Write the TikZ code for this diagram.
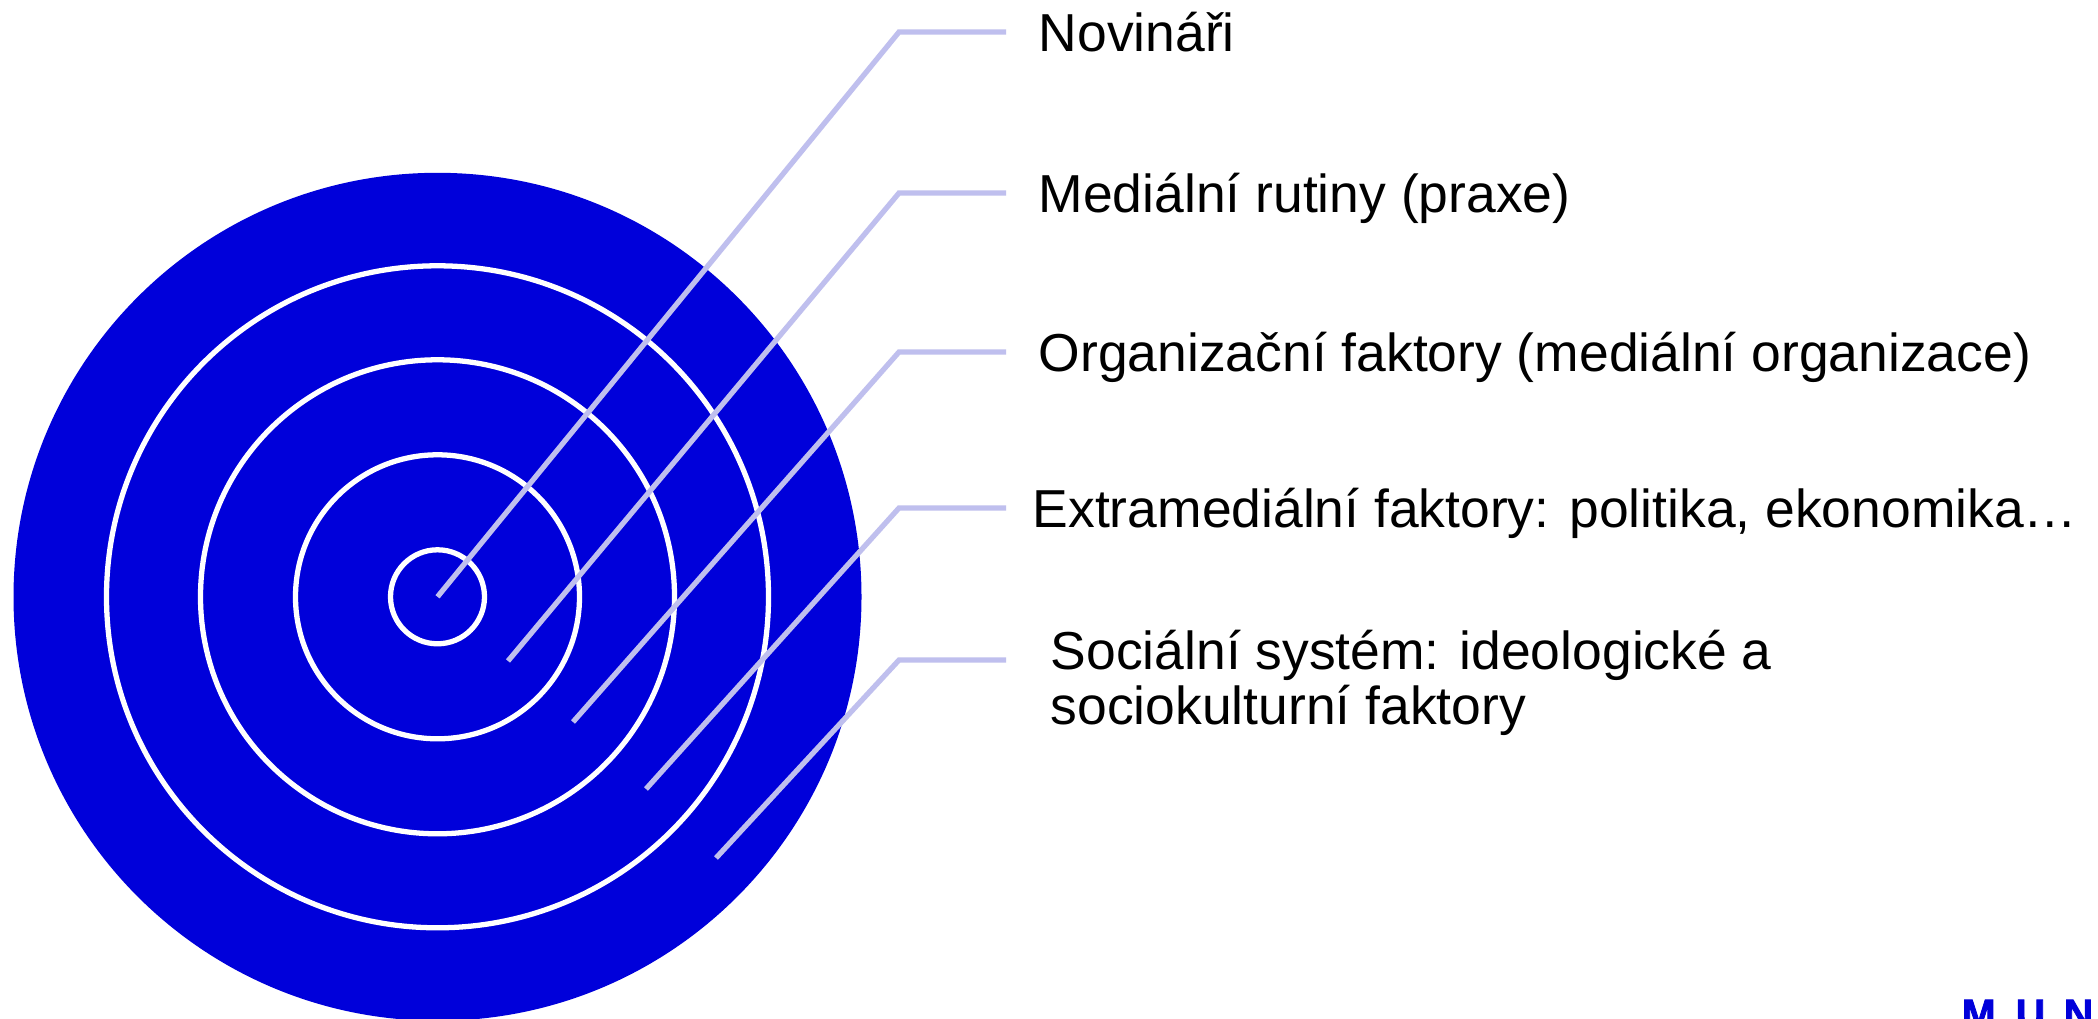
\documentclass[tikz,border=0pt]{standalone}
\usepackage{fontspec}
\setmainfont{Liberation Sans}
\newfontfamily\logofont[FakeBold=2]{Liberation Sans Bold}
\definecolor{ringblue}{RGB}{0,0,218}
\definecolor{leader}{RGB}{191,191,238}

\begin{document}
\begin{tikzpicture}[x=0.01cm,y=-0.01cm,
  ring/.style={draw=white,line width=1.5pt},
  lead/.style={draw=leader,line width=1.5pt},
  label/.style={anchor=west,inner xsep=0.32cm,inner ysep=0pt,font=\fontsize{15.2}{15.9}\selectfont,text height=10.9pt,text depth=0pt},
  logo/.style={anchor=north west,inner sep=0pt,text=ringblue,font=\fontsize{11.6}{12}\logofont,text height=8.3pt}]
  \useasboundingbox (0,0) rectangle (2098,1019);
  \clip (0,0) rectangle (2098,1019);
  \fill[white] (0,0) rectangle (2098,1019);

  \coordinate (c) at (437.5,596.8);
  \fill[ringblue] (c) circle[radius=424];
  \draw[ring] (c) circle[radius=331];
  \draw[ring] (c) circle[radius=237];
  \draw[ring] (c) circle[radius=142];
  \draw[ring] (c) circle[radius=47];

  \node[label] (nov) at (1006,32) {Novináři};
  \node[label] (rut) at (1006,193) {Mediální rutiny (praxe)};
  \node[label] (org) at (1006,352) {Organizační faktory (mediální organizace)};
  \node[label,xshift=-0.06cm] (ext) at (1006,508) {Extramediální faktory: politika, ekonomika…};
  \node[label,anchor=north west,text height=,align=left,xshift=0.12cm] (soc) at (1006,629) {Sociální systém: ideologické a\\sociokulturní faktory};

  \coordinate (e2) at (508,661);
  \coordinate (e3) at (573,722);
  \coordinate (e4) at (646,789);
  \coordinate (e5) at (716,858);
  \draw[lead] (c)  -- (899,32)  -- (1006,32);
  \draw[lead] (e2) -- (899,193) -- (1006,193);
  \draw[lead] (e3) -- (899,352) -- (1006,352);
  \draw[lead] (e4) -- (899,508) -- (1006,508);
  \draw[lead] (e5) -- (899,660) -- (1006,660);

  \node[logo] (m) at (1961,998) {M};
  \node[logo] (u) at (2015,998) {U};
  \node[logo] (n) at (2063,998) {N};
\end{tikzpicture}
\end{document}
